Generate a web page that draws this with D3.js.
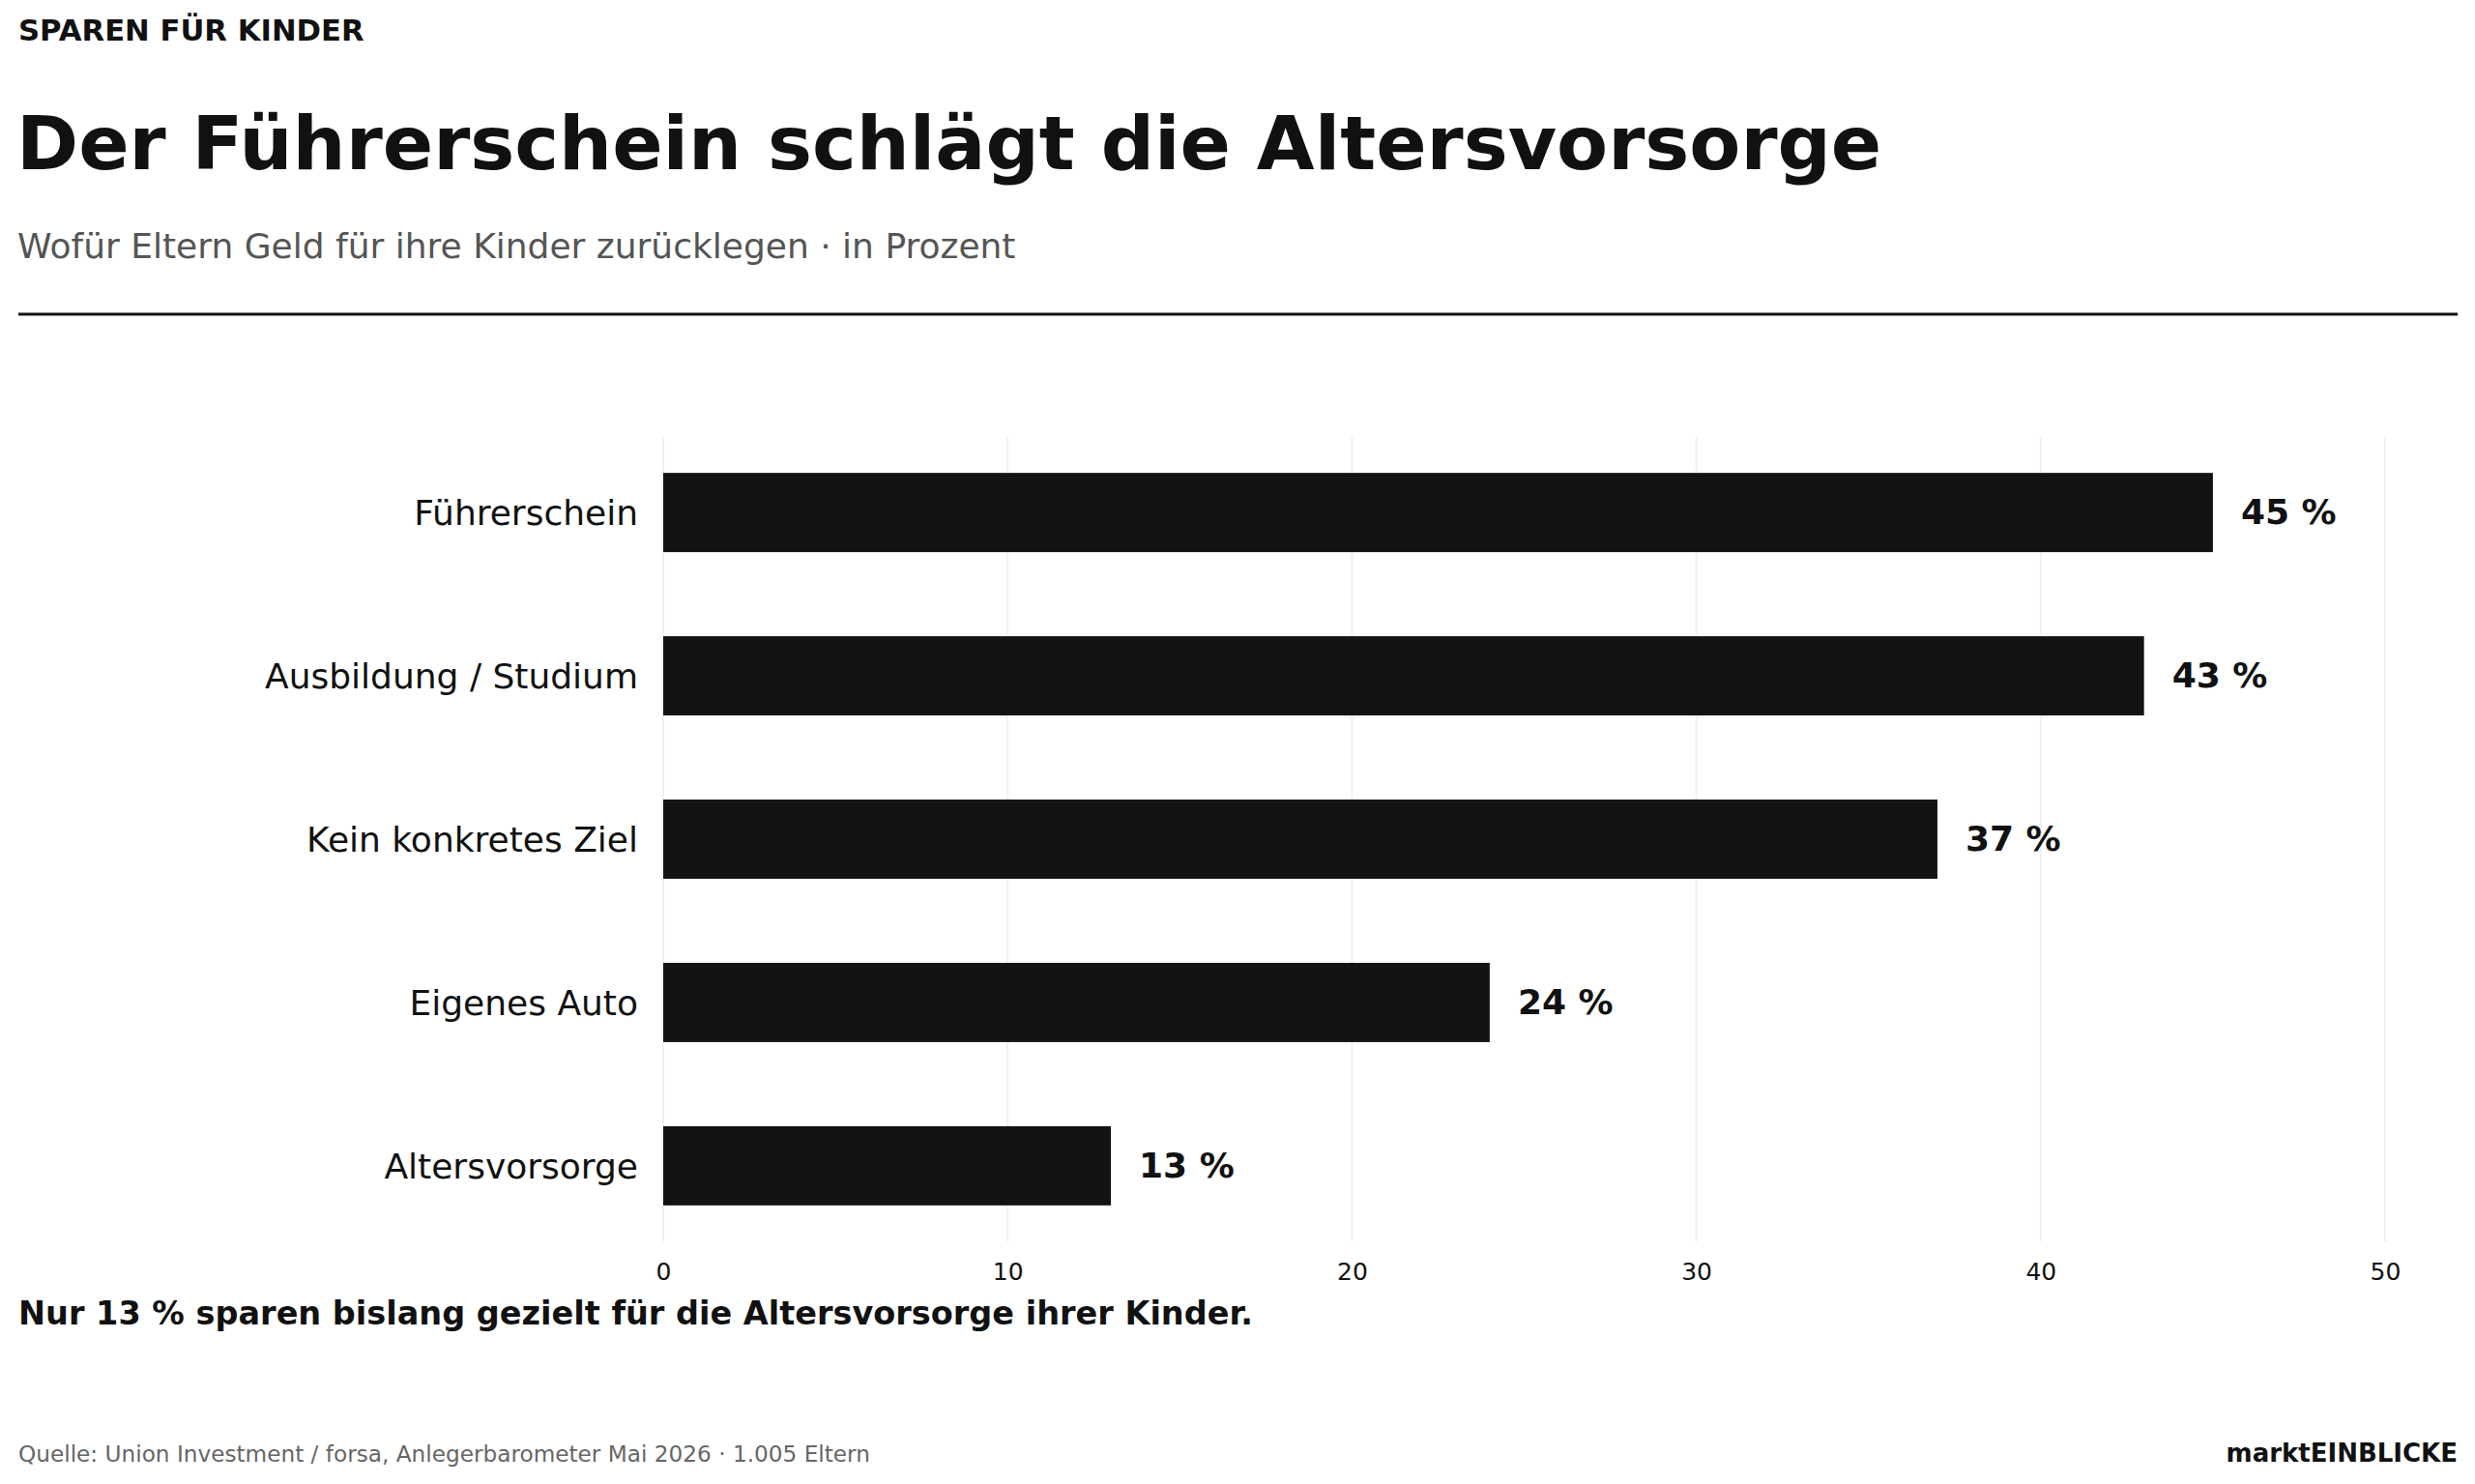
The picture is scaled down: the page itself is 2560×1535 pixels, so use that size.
<!DOCTYPE html>
<html><head><meta charset="utf-8">
<script src="https://cdn.jsdelivr.net/npm/d3@7"></script>
<style>html,body{margin:0;padding:0;background:#fff;}svg{display:block;font-family:"DejaVu Sans",sans-serif;}</style>
</head><body>
<script>
const categories = ["Führerschein","Ausbildung / Studium","Kein konkretes Ziel","Eigenes Auto","Altersvorsorge"];
const values = [45,43,37,24,13];
const tickValues = [0,10,20,30,40,50];

const W = 2560, H = 1535;
const svg = d3.select("body").append("svg").attr("width",W).attr("height",H);

svg.append("text").attr("x",19).attr("y",42).attr("font-size",30.7).attr("font-weight","bold").attr("fill","#111").text("SPAREN FÜR KINDER");
svg.append("text").attr("x",17).attr("y",175).attr("font-size",77.3).attr("font-weight","bold").attr("fill","#111").text("Der Führerschein schlägt die Altersvorsorge");
svg.append("text").attr("x",18).attr("y",267).attr("font-size",36).attr("fill","#555").text("Wofür Eltern Geld für ihre Kinder zurücklegen · in Prozent");
svg.append("line").attr("x1",19).attr("x2",2542).attr("y1",325).attr("y2",325).attr("stroke","#111").attr("stroke-width",3);

const x = d3.scaleLinear().domain([0,50]).range([686,2467]);
const y = d3.scaleBand().domain(categories).range([452,1284]).paddingInner(0.515).paddingOuter(0.22);

svg.append("g").selectAll("line").data(tickValues).join("line")
  .attr("x1",d=>x(d)).attr("x2",d=>x(d)).attr("y1",452).attr("y2",1284)
  .attr("stroke","#f0f0f0").attr("stroke-width",2);

svg.append("g").selectAll("rect").data(values).join("rect")
  .attr("x",x(0)).attr("y",(d,i)=>y(categories[i])).attr("width",d=>x(d)-x(0)).attr("height",y.bandwidth())
  .attr("fill","#131313");

svg.append("g").selectAll("text").data(values).join("text")
  .attr("x",d=>x(d)+29).attr("y",(d,i)=>y(categories[i])+y.bandwidth()/2+12)
  .attr("font-size",36).attr("font-weight","bold").attr("fill","#111").text(d=>d+" %");

svg.append("g").selectAll("text").data(categories).join("text")
  .attr("x",660).attr("y",d=>y(d)+y.bandwidth()/2+13).attr("text-anchor","end")
  .attr("font-size",36).attr("fill","#111").text(d=>d);

const ax = svg.append("g").attr("transform","translate(0,1300)")
  .call(d3.axisBottom(x).tickValues(tickValues).tickSize(0).tickPadding(6));
ax.select(".domain").remove();
ax.selectAll("text").attr("font-size",25).attr("font-family","DejaVu Sans").attr("fill","#111");

svg.append("text").attr("x",19).attr("y",1370).attr("font-size",33.5).attr("font-weight","bold").attr("fill","#111").text("Nur 13 % sparen bislang gezielt für die Altersvorsorge ihrer Kinder.");
svg.append("text").attr("x",19).attr("y",1512).attr("font-size",23.2).attr("fill","#666").text("Quelle: Union Investment / forsa, Anlegerbarometer Mai 2026 · 1.005 Eltern");
svg.append("text").attr("x",2542).attr("y",1512).attr("text-anchor","end").attr("font-size",26).attr("font-weight","bold").attr("fill","#111").text("marktEINBLICKE");
</script>
</body></html>
